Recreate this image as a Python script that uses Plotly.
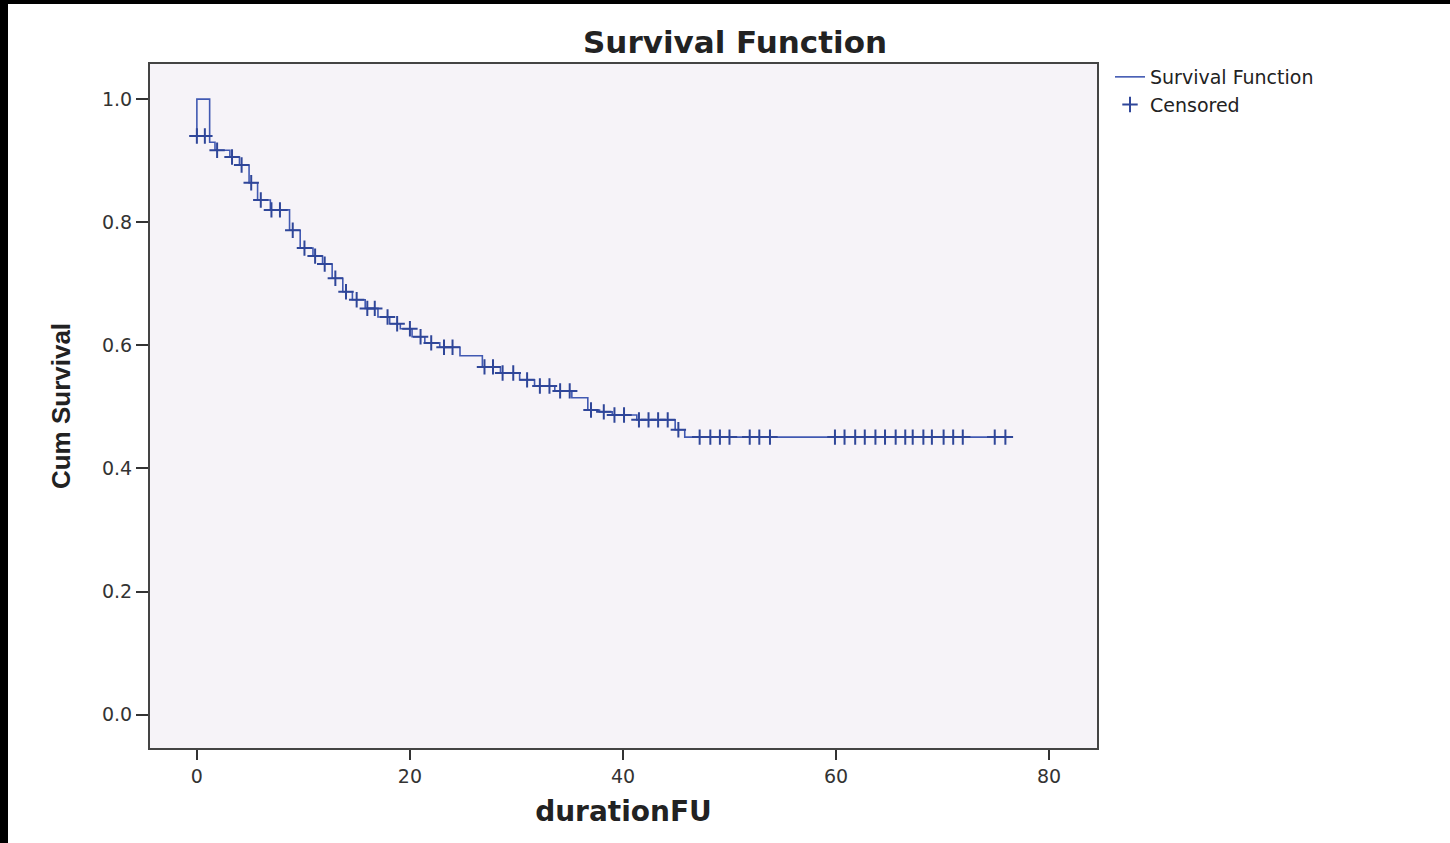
import plotly.graph_objects as go

# Kaplan-Meier step function (time at which level starts, survival level)
step_time = [0, 0, 1.2, 1.7, 3.1, 4.0, 4.9, 5.7, 6.9, 8.7, 9.7, 10.9, 11.8, 12.7, 13.7,
             14.6, 15.8, 17.0, 18.1, 19.1, 20.2, 21.4, 22.8, 24.7, 26.8, 28.5, 30.3,
             31.7, 33.6, 35.2, 36.7, 37.8, 39.0, 41.3, 44.9, 45.8, 76.5]
step_surv = [0.94, 1.0, 0.93, 0.917, 0.906, 0.893, 0.864, 0.836, 0.82, 0.787, 0.758,
             0.745, 0.732, 0.709, 0.687, 0.674, 0.66, 0.646, 0.635, 0.627, 0.614,
             0.604, 0.597, 0.583, 0.565, 0.555, 0.544, 0.534, 0.526, 0.515, 0.495,
             0.492, 0.487, 0.479, 0.463, 0.451, 0.451]

# Censored observations
cens_time = [0, 0.75, 1.9, 3.3, 4.2, 5.1, 6.0, 7.0, 7.8, 9.0, 10.1, 11.1, 12.0, 13.0,
             14.0, 15.0, 16.0, 16.7, 17.9, 18.8, 20.0, 21.0, 22.0, 23.2, 24.0, 27.0,
             27.8, 28.7, 29.7, 31.0, 32.2, 33.1, 34.1, 35.0, 37.0, 38.2, 39.2, 40.1,
             41.5, 42.4, 43.3, 44.2, 45.2,
             47.2, 48.2, 49.1, 50.0, 51.9, 52.8, 53.8, 59.9, 60.8, 61.8, 62.7, 63.7,
             64.6, 65.6, 66.5, 67.2, 68.2, 69.0, 70.1, 71.0, 71.9, 74.9, 75.9]
cens_surv = [0.94, 0.94, 0.917, 0.906, 0.893, 0.864, 0.836, 0.82, 0.82, 0.787, 0.758,
             0.745, 0.732, 0.709, 0.687, 0.674, 0.66, 0.66, 0.646, 0.635, 0.627, 0.614,
             0.604, 0.597, 0.597, 0.565, 0.565, 0.555, 0.555, 0.544, 0.534, 0.534,
             0.526, 0.526, 0.495, 0.492, 0.487, 0.487, 0.479, 0.479, 0.479, 0.479, 0.463,
             0.451, 0.451, 0.451, 0.451, 0.451, 0.451, 0.451, 0.451, 0.451, 0.451,
             0.451, 0.451, 0.451, 0.451, 0.451, 0.451, 0.451, 0.451, 0.451, 0.451,
             0.451, 0.451, 0.451]

x_ticks = [0, 20, 40, 60, 80]
y_ticks = [0.0, 0.2, 0.4, 0.6, 0.8, 1.0]
y_tick_text = ["0.0", "0.2", "0.4", "0.6", "0.8", "1.0"]

LINE = "#4159b2"
MARK = "#2f4699"
FONT = "DejaVu Sans"

fig = go.Figure()
fig.add_trace(go.Scatter(
    x=step_time, y=step_surv, mode="lines", name="Survival Function",
    line=dict(color=LINE, width=1.6, shape="hv"),
))
fig.add_trace(go.Scatter(
    x=cens_time, y=cens_surv, mode="markers", name="Censored",
    marker=dict(symbol="cross-thin-open", size=11, color=MARK,
                line=dict(color=MARK, width=2)),
))

W, H = 1450, 843
L, R, T, B = 150, 1097, 64, 748
pw, ph = R - L, B - T

def px(xp):
    return (xp - L) / pw

def py(yp):
    return (B - yp) / ph

fig.update_layout(
    width=W, height=H,
    margin=dict(l=L, r=W - R, t=T, b=H - B, pad=0),
    paper_bgcolor="white",
    plot_bgcolor="#f6f3f8",
    title=dict(text="<b>Survival Function</b>", x=735 / W, xanchor="center",
               y=1 - 42 / H, yanchor="middle",
               font=dict(family=FONT, size=31, color="#222")),
    showlegend=True,
    legend=dict(x=px(1110), y=py(58), xanchor="left", yanchor="top",
                bgcolor="rgba(0,0,0,0)", font=dict(family=FONT, size=19, color="#222"),
                itemwidth=30, tracegroupgap=0),
    xaxis=dict(range=[-4.4, 84.5], tickvals=x_ticks, ticks="outside", ticklen=10,
               tickwidth=2, tickcolor="#333", showgrid=False, zeroline=False,
               showline=True, linecolor="#444", linewidth=2, mirror=True,
               tickfont=dict(family=FONT, size=19, color="#333"),
               title=dict(text="<b>durationFU</b>", standoff=16,
                          font=dict(family=FONT, size=28, color="#222"))),
    yaxis=dict(range=[-0.054, 1.057], tickvals=y_ticks, ticktext=y_tick_text,
               ticks="outside", ticklen=12, tickwidth=2, tickcolor="#333",
               showgrid=False, zeroline=False, showline=True, linecolor="#444",
               linewidth=2, mirror=True,
               tickfont=dict(family=FONT, size=19, color="#333"),
               title=dict(text="<b>Cum Survival</b>", standoff=24,
                          font=dict(family="Liberation Sans Narrow, Liberation Sans", size=26,
                                    color="#222"))),
    shapes=[
        dict(type="rect", xref="paper", yref="paper", x0=px(0), x1=px(8),
             y0=py(H), y1=py(0), fillcolor="black", line=dict(width=0), layer="above"),
        dict(type="rect", xref="paper", yref="paper", x0=px(0), x1=px(W),
             y0=py(4), y1=py(0), fillcolor="black", line=dict(width=0), layer="above"),
    ],
)

fig.write_html("out.html", config={"displayModeBar": False},
               post_script="document.body.style.margin='0';")
